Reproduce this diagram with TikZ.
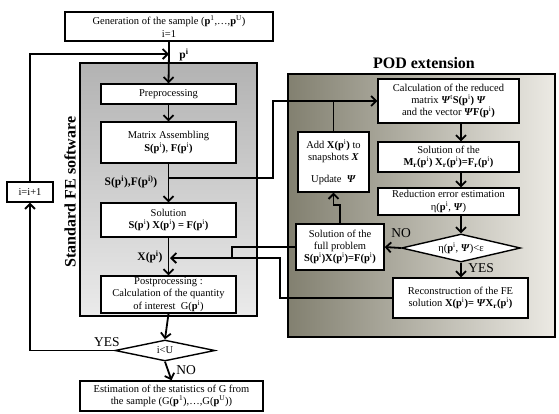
\documentclass[tikz,border=0pt]{standalone}
\usepackage{fontspec}
\setmainfont{Liberation Serif}
\usetikzlibrary{arrows.meta,shapes.geometric}
\newcommand{\pv}{\textbf{p}\textsuperscript{i}}
\newcommand{\Psb}{\textbf{\textit{Ψ}}}
\definecolor{podL}{RGB}{130,128,112}
\definecolor{podR}{RGB}{236,234,228}
\tikzset{
  box/.style={draw, line width=1.4pt, fill=white, align=center, inner sep=1pt,
    font=\fontsize{10.5}{12.3}\selectfont},
  dia/.style={draw, diamond, shape aspect=4.5, line width=1.4pt, fill=white, inner sep=0pt,
    font=\fontsize{10.5}{12.3}\selectfont},
  arr/.style={line width=1.8pt, -{Straight Barb[length=5pt,width=10pt]}},
  ln/.style={line width=1.8pt},
  lab/.style={font=\fontsize{11.5}{12}\selectfont\bfseries, inner sep=0pt},
  yn/.style={font=\fontsize{13.5}{14}\selectfont, inner sep=0pt},
  title/.style={font=\fontsize{16}{18}\selectfont\bfseries, inner sep=0pt}
}
\begin{document}
\begin{tikzpicture}[x=1pt,y=-1pt]
\useasboundingbox (0,0) rectangle (559,413);
% background panels
\shade[top color=black!30, bottom color=black!8, draw=black, line width=1.4pt] (80,63) rectangle (257,316);
\shade[left color=podL, right color=podR, draw=black, line width=1.4pt] (288,74) rectangle (555,337);
\node[title, rotate=90] (stdlab) at (70,192) {Standard FE software};
\node[title] (podlab) at (424,63) {POD extension};
% left column
\node[box, minimum width=208, minimum height=29] (gen) at (169,26.5) {Generation of the sample (\textbf{p}\textsuperscript{1},…,\textbf{p}\textsuperscript{U})\\i=1};
\node[box, minimum width=135, minimum height=20] (pre) at (168.5,94) {Preprocessing};
\node[box, minimum width=135, minimum height=41] (mat) at (168.5,142.5) {Matrix Assembling\\\textbf{S(}\pv\textbf{)}, \textbf{F(}\pv\textbf{)}};
\node[box, minimum width=135, minimum height=34] (sol) at (168.5,220) {Solution\\\textbf{S(}\pv\textbf{) X(}\pv\textbf{) = F(}\pv\textbf{)}};
\node[box, minimum width=135, minimum height=37] (post) at (168.5,294.5) {Postprocessing :\\Calculation of the quantity\\of interest\ \ G(\pv)};
\node[dia, minimum width=100, minimum height=21] (iu) at (165,350.5) {i<U};
\node[box, minimum width=183, minimum height=30] (est) at (171.5,396) {Estimation of the statistics of G from\\the sample (G(\textbf{p}\textsuperscript{1}),…,G(\textbf{p}\textsuperscript{U}))};
\node[box, minimum width=46, minimum height=20] (inc) at (30,192) {i=i+1};
% POD column
\node[box, minimum width=141, minimum height=44] (calc) at (448.5,101) {Calculation of the reduced\\matrix \Psb\textsuperscript{t}\textbf{S(}\pv\textbf{)} \Psb\\and the vector \Psb\textbf{F(}\pv\textbf{)}};
\node[box, minimum width=141, minimum height=30] (solr) at (448.5,157) {Solution of the\\\textbf{M\textsubscript{r}(}\pv\textbf{) X\textsubscript{r}(}\pv\textbf{)=F\textsubscript{r}(}\pv\textbf{)}};
\node[box, minimum width=141, minimum height=27] (red) at (448.5,201.5) {Reduction error estimation\\η(\pv, \Psb)};
\node[dia, minimum width=119, minimum height=28] (eta) at (461,248) {η(\pv, \Psb)<ε};
\node[box, minimum width=88, minimum height=46] (full) at (340,247) {Solution of the\\full problem\\\textbf{S(}\pv\textbf{)X(}\pv\textbf{)=F(}\pv\textbf{)}};
\node[box, minimum width=135, minimum height=40] (rec) at (460.5,298) {Reconstruction of the FE\\solution \textbf{X(}\pv\textbf{)=} \Psb\textbf{X\textsubscript{r}(}\pv\textbf{)}};
\node[box, minimum width=71, minimum height=60] (add) at (333.5,162) {Add \textbf{X(}\pv\textbf{)} to\\snapshots \textbf{\textit{X}}\\[9pt]Update \ \Psb};
% labels
\node[lab] (lp) at (184,55) {\pv};
\node[lab] (lsf) at (131,182) {S(\pv),F(\textbf{p}\textsuperscript{i)})};
\node[lab] (lx) at (150,257) {X(\pv)};
\node[yn] (yes1) at (107,342) {YES};
\node[yn] (no1) at (186,370) {NO};
\node[yn] (no2) at (401,233) {NO};
\node[yn] (yes2) at (481,268) {YES};
% coordinates
\coordinate (jp) at (gen.south |- 0,54);
\coordinate (jm) at (mat.south |- 0,178);
\coordinate (jc) at (273,178);
\coordinate (jc2) at (273,101);
\coordinate (ja) at (add.north |- calc.west);
\coordinate (jx) at (170,258);
\coordinate (f1) at (232,247);
\coordinate (f2) at (232,258);
\coordinate (r1) at (280,298);
\coordinate (r2) at (280,258);
\coordinate (s1) at (340,205);
\coordinate (s2) at (333.5,205);
% connectors
\draw[ln] (gen.south) -- (jp);
\draw[arr] (jp) -- (pre.north);
\draw[arr] (pre.south) -- (mat.north);
\draw[ln] (mat.south) -- (jm);
\draw[arr] (jm) -- (sol.north);
\draw[arr] (jm) -- (jc) -- (jc2) -- (calc.west);
\draw[ln] (add.north) -- (ja);
\draw[arr] (sol.south) -- (post.north);
\draw[arr] (post.south) -- (iu.north);
\draw[arr] (iu.south) -- (est.north);
\draw[arr] (iu.west) -| (inc.south);
\draw[arr] (inc.north) |- (jp);
\draw[arr] (calc.south -| eta.north) -- (solr.north -| eta.north);
\draw[arr] (solr.south -| eta.north) -- (red.north -| eta.north);
\draw[arr] (red.south -| eta.north) -- (eta.north);
\draw[arr] (eta.west) -- (full.east);
\draw[arr] (eta.south) -- (rec.north -| eta.south);
\draw[arr] (full.north -| s1) -- (s1) -- (s2) -- (add.south);
\draw[arr] (full.west |- f1) -- (f1) -- (f2) -- (jx);
\draw[ln] (rec.west) -- (r1) -- (r2) -- (f2);
\end{tikzpicture}
\end{document}
